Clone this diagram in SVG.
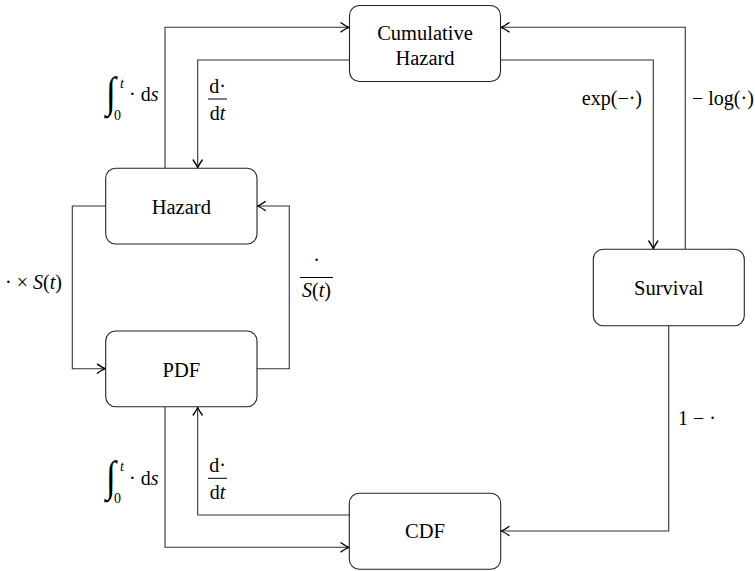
<svg xmlns="http://www.w3.org/2000/svg" width="755" height="571" viewBox="0 0 755 571">
<defs>
<style>
.box{fill:#fff;stroke:#222;stroke-width:1.1}
.lbl{font-family:"Liberation Serif","Times New Roman",serif;font-size:20.5px;fill:#000}
.m{font-family:"Liberation Serif","Times New Roman",serif;font-size:20px;fill:#000}
.it{font-style:italic}
.sm{font-size:14px}
.int{font-family:"Liberation Serif","Times New Roman",serif;font-size:36px;fill:#000}
.wire{fill:none;stroke:#333;stroke-width:1.1}
.fr{stroke:#000;stroke-width:1}
</style>
<marker id="ah" markerUnits="userSpaceOnUse" markerWidth="12" markerHeight="12" viewBox="-8 -5 10 10" refX="0" refY="0" orient="auto">
<path d="M-6.5,-3.8 Q-2.2,-0.8 0,0 Q-2.2,0.8 -6.5,3.8" fill="none" stroke="#000" stroke-width="1.1" stroke-linecap="round"/>
</marker>
</defs>

<g id="connectors">
<path class="wire" d="M165,168.3 V27.3 H348.8" marker-end="url(#ah)"/>
<path class="wire" d="M349.3,60 H197.7 V167.8" marker-end="url(#ah)"/>
<path class="wire" d="M500.7,60 H653.3 V248.8" marker-end="url(#ah)"/>
<path class="wire" d="M685.3,249.3 V27.3 H501.2" marker-end="url(#ah)"/>
<path class="wire" d="M105.7,206 H72.3 V368.7 H105.2" marker-end="url(#ah)"/>
<path class="wire" d="M257,368.7 H289.3 V206 H257.5" marker-end="url(#ah)"/>
<path class="wire" d="M165,406.7 V547.3 H348.8" marker-end="url(#ah)"/>
<path class="wire" d="M349.3,515 H197.7 V407.2" marker-end="url(#ah)"/>
<path class="wire" d="M668.7,325.7 V531 H501.2" marker-end="url(#ah)"/>
</g>

<g id="cumhaz">
<rect class="box" x="349.5" y="5.5" width="151" height="76" rx="10"/>
<text class="lbl" x="425" y="40" text-anchor="middle">Cumulative</text>
<text class="lbl" x="425" y="65" text-anchor="middle">Hazard</text>
</g>
<g id="hazard">
<rect class="box" x="105.7" y="168.3" width="151.3" height="75.7" rx="10"/>
<text class="lbl" x="181.3" y="214" text-anchor="middle">Hazard</text>
</g>
<g id="pdf">
<rect class="box" x="105.7" y="331" width="151.3" height="75.7" rx="10"/>
<text class="lbl" x="181.3" y="376.5" text-anchor="middle">PDF</text>
</g>
<g id="survival">
<rect class="box" x="593.3" y="249.3" width="151" height="76.4" rx="10"/>
<text class="lbl" x="668.8" y="295" text-anchor="middle">Survival</text>
</g>
<g id="cdf">
<rect class="box" x="349.3" y="493.3" width="151.4" height="76" rx="10"/>
<text class="lbl" x="425" y="538" text-anchor="middle">CDF</text>
</g>

<g id="labels">
<!-- top integral -->
<text class="int" transform="translate(106,107) scale(1,1.2)">∫</text>
<text class="m it sm" x="120" y="88">t</text>
<text class="m sm" x="114" y="120">0</text>
<text class="m" x="129" y="101">· d<tspan class="it">s</tspan></text>
<!-- top derivative -->
<text class="m" x="217.5" y="93" text-anchor="middle">d·</text>
<line class="fr" x1="208" y1="99" x2="227" y2="99"/>
<text class="m" x="217.5" y="120" text-anchor="middle">d<tspan class="it">t</tspan></text>
<!-- right side -->
<text class="m" x="642" y="105" text-anchor="end">exp(−·)</text>
<text class="m" x="692" y="105">− log(·)</text>
<!-- middle left -->
<text class="m" x="5" y="289">· × <tspan class="it">S</tspan>(<tspan class="it">t</tspan>)</text>
<!-- middle right fraction -->
<text class="m" x="316.5" y="267" text-anchor="middle">·</text>
<line class="fr" x1="300" y1="277.5" x2="333" y2="277.5"/>
<text class="m" x="316.5" y="297" text-anchor="middle"><tspan class="it">S</tspan>(<tspan class="it">t</tspan>)</text>
<!-- 1 - -->
<text class="m" x="678" y="425">1 − ·</text>
<!-- bottom integral -->
<text class="int" transform="translate(106,491) scale(1,1.2)">∫</text>
<text class="m it sm" x="120" y="471">t</text>
<text class="m sm" x="114" y="503">0</text>
<text class="m" x="129" y="485">· d<tspan class="it">s</tspan></text>
<!-- bottom derivative -->
<text class="m" x="217.5" y="472" text-anchor="middle">d·</text>
<line class="fr" x1="208" y1="478.3" x2="227" y2="478.3"/>
<text class="m" x="217.5" y="499" text-anchor="middle">d<tspan class="it">t</tspan></text>
</g>
</svg>
